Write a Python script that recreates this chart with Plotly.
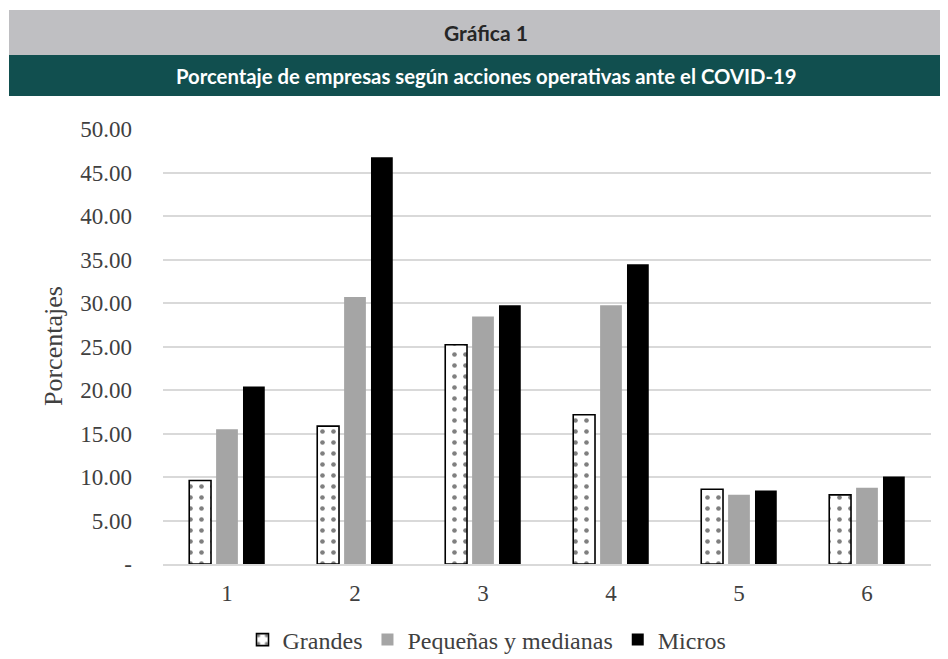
import plotly.graph_objects as go

categories = ["1", "2", "3", "4", "5", "6"]
grandes = [9.6, 15.85, 25.2, 17.15, 8.6, 7.95]
pequenas_medianas = [15.5, 30.7, 28.45, 29.75, 7.95, 8.75]
micros = [20.4, 46.75, 29.75, 34.45, 8.45, 10.05]

y_tickvals = [0, 5, 10, 15, 20, 25, 30, 35, 40, 45, 50]
y_ticktext = ["-", "5.00", "10.00", "15.00", "20.00", "25.00", "30.00",
              "35.00", "40.00", "45.00", "50.00"]

title_text = "Gráfica 1"
subtitle_text = "Porcentaje de empresas según acciones operativas ante el COVID-19"
y_title = "Porcentajes"

# page body has an 8px default margin; size the figure to fit the window
OFF = 8
W, H = 940, 651
ml, mr, mt, mb = 155, 17, 121, 95
pw = W - ml - mr
ph = H - mt - mb


def px_x(p):
    return (p - OFF - ml) / pw


def px_y(p):
    return (H - mb - (p - OFF)) / ph


fig = go.Figure()
fig.add_trace(go.Bar(
    name="Grandes", x=categories, y=grandes,
    marker=dict(color="white", line=dict(color="black", width=1.6),
                pattern=dict(shape=".", fgcolor="black", bgcolor="white",
                             size=11, solidity=0.14)),
))
fig.add_trace(go.Bar(
    name="Pequeñas y medianas", x=categories, y=pequenas_medianas,
    marker=dict(color="#a5a5a5", line=dict(width=0)),
))
fig.add_trace(go.Bar(
    name="Micros", x=categories, y=micros,
    marker=dict(color="#000000", line=dict(width=0)),
))

serif = "Liberation Serif, Times New Roman, serif"
txt = "#404040"

fig.update_layout(
    width=W, height=H,
    margin=dict(l=ml, r=mr, t=mt, b=mb, autoexpand=False),
    paper_bgcolor="white", plot_bgcolor="white",
    barmode="group", bargap=0.37, bargroupgap=0.19,
    font=dict(family=serif, color=txt, size=23),
    showlegend=True,
    legend=dict(orientation="h", x=px_x(487), xanchor="center",
                y=px_y(640), yanchor="middle",
                font=dict(family=serif, size=24, color=txt),
                itemwidth=30, traceorder="normal"),
    xaxis=dict(showgrid=False, showline=True, linecolor="#d9d9d9", linewidth=1.5,
               ticks="", ticklabelstandoff=8,
               tickfont=dict(size=23, family=serif, color=txt)),
    yaxis=dict(range=[0, 50], tickvals=y_tickvals, ticktext=y_ticktext,
               showgrid=True, gridcolor="#d9d9d9", gridwidth=1.5,
               zeroline=False, showline=False, ticks="",
               ticklabelstandoff=30,
               tickfont=dict(size=23, family=serif, color=txt)),
    shapes=[
        dict(type="rect", xref="paper", yref="paper",
             x0=px_x(9), x1=px_x(960), y0=px_y(55), y1=px_y(10),
             fillcolor="#bfbfc2", line=dict(width=0), layer="above"),
        dict(type="rect", xref="paper", yref="paper",
             x0=px_x(9), x1=px_x(960), y0=px_y(96), y1=px_y(55),
             fillcolor="#114f4f", line=dict(width=0), layer="above"),
    ],
    annotations=[
        dict(text="<b>" + title_text + "</b>", xref="paper", yref="paper",
             x=px_x(486), y=px_y(32), xanchor="center", yanchor="middle",
             showarrow=False, font=dict(family="Lato, sans-serif", size=21, color="#262626")),
        dict(text="<b>" + subtitle_text + "</b>", xref="paper", yref="paper",
             x=px_x(486), y=px_y(76), xanchor="center", yanchor="middle",
             showarrow=False, font=dict(family="Lato, sans-serif", size=20.3, color="white")),
        dict(text=y_title, xref="paper", yref="paper",
             x=px_x(53), y=px_y(346), xanchor="center", yanchor="middle",
             textangle=-90, showarrow=False,
             font=dict(family=serif, size=26, color=txt)),
    ],
)

fig.write_html("out.html")
